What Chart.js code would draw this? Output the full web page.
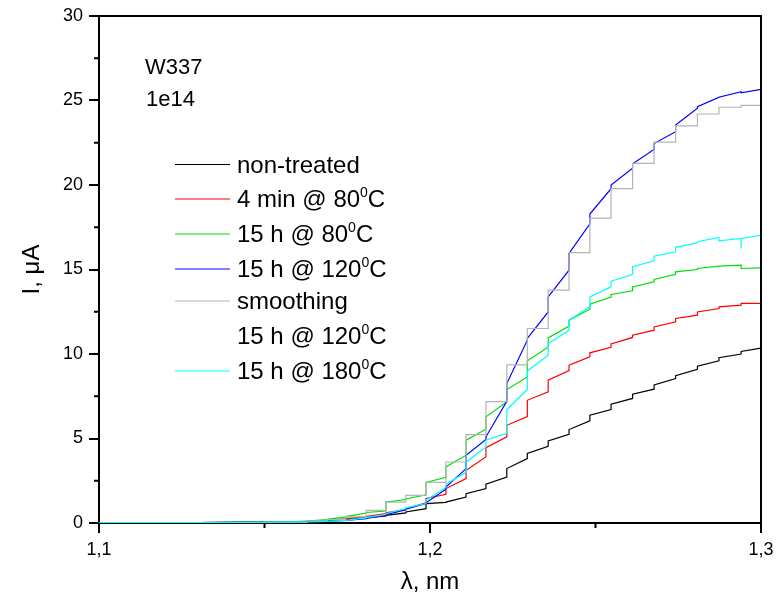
<!DOCTYPE html>
<html>
<head>
<meta charset="utf-8">
<script src="https://cdn.jsdelivr.net/npm/chart.js@4"></script>
<style>
  body { margin: 0; background: #fff; }
  canvas { display: block; }
</style>
</head>
<body>
<canvas id="chart" width="776" height="602"></canvas>
<script>
// wavelength steps (nm) where the measured curves jump
const stepNm = [1.1, 1.13, 1.15, 1.1628, 1.1689, 1.1746, 1.1807, 1.1867, 1.1927, 1.1988, 1.2048,
  1.2109, 1.2169, 1.2232, 1.2294, 1.2357, 1.2420, 1.2483, 1.2547, 1.2612, 1.2677, 1.2742,
  1.2808, 1.2873, 1.2940];
const lastNm = 1.3;

// value just before / just after each step, and the value at 1,3
const blackLo = [0.02, 0.03, 0.06, 0.1, 0.14, 0.2, 0.3, 0.42, 0.6, 0.85, 1.22, 1.54, 2.04, 2.72, 3.81, 4.54, 5.25, 6.04, 6.71, 7.37, 7.92, 8.55, 9.1, 9.6, 10.0];
const blackHi = [0.02, 0.03, 0.06, 0.1, 0.15, 0.21, 0.32, 0.45, 0.65, 1.15, 1.24, 1.74, 2.29, 3.22, 4.11, 4.86, 5.53, 6.38, 7.03, 7.62, 8.17, 8.72, 9.28, 9.78, 10.15];
const blackEnd = 10.35;

const redLo = [0.02, 0.03, 0.06, 0.1, 0.15, 0.25, 0.36, 0.56, 0.79, 1.2, 1.7, 2.63, 3.91, 5.1, 6.3, 7.76, 9.02, 9.83, 10.4, 10.98, 11.41, 11.9, 12.3, 12.69, 12.89];
const redHi = [0.02, 0.03, 0.06, 0.1, 0.16, 0.26, 0.38, 0.6, 0.85, 1.45, 2.04, 3.12, 4.46, 5.78, 7.26, 8.45, 9.34, 10.07, 10.6, 11.11, 11.6, 12.1, 12.49, 12.79, 12.99];
const redEnd = 12.99;

const greenLo = [0.02, 0.03, 0.06, 0.1, 0.2, 0.36, 0.59, 0.71, 1.39, 1.67, 2.7, 4.01, 5.55, 7.16, 8.64, 10.4, 11.65, 12.65, 13.37, 13.74, 14.27, 14.72, 15.0, 15.2, 15.26];
const greenHi = [0.02, 0.03, 0.06, 0.12, 0.22, 0.38, 0.62, 1.24, 1.42, 2.4, 3.32, 4.9, 6.28, 7.9, 9.6, 10.95, 12.0, 12.95, 13.52, 13.97, 14.41, 14.86, 15.06, 15.2, 15.06];
const greenEnd = 15.1;

const blueLo = [0.02, 0.03, 0.05, 0.06, 0.1, 0.15, 0.25, 0.45, 0.78, 1.15, 2.0, 3.22, 4.95, 7.2, 10.82, 12.49, 14.96, 17.7, 19.78, 21.0, 22.1, 23.15, 24.54, 25.19, 25.52];
const blueHi = [0.02, 0.03, 0.05, 0.06, 0.1, 0.16, 0.27, 0.5, 0.82, 1.2, 2.13, 4.0, 5.1, 8.25, 10.92, 13.38, 15.95, 18.28, 20.0, 21.25, 22.45, 23.55, 24.63, 25.2, 25.45];
const blueEnd = 25.66;

// smoothing: one flat level per step interval
const grayLevel = [0.02, 0.03, 0.05, 0.12, 0.2, 0.36, 0.75, 1.24, 1.64, 2.4, 3.61, 5.23, 7.18, 9.36, 11.51, 13.78, 16.0, 18.04, 19.78, 21.28, 22.54, 23.5, 24.2, 24.6, 24.71];
const grayEnd = 24.71;

const cyanLo = [0.02, 0.03, 0.05, 0.05, 0.1, 0.15, 0.3, 0.5, 0.85, 1.15, 2.1, 3.0, 4.5, 5.3, 7.9, 9.93, 11.4, 12.79, 13.97, 14.72, 15.51, 16.05, 16.58, 16.9, 16.84];
const cyanHi = [0.02, 0.03, 0.05, 0.06, 0.1, 0.16, 0.32, 0.55, 0.9, 1.35, 2.3, 3.6, 4.9, 6.7, 9.0, 10.6, 12.0, 13.38, 14.31, 15.16, 15.79, 16.31, 16.64, 16.7, 16.84];
const cyanDip = 16.25;   // glitch at the last step
const cyanEnd = 17.02;

const yMinor = [2.5, 7.5, 12.5, 17.5, 22.5, 27.5];
const xMinor = [1.15, 1.25];

// legend rows: label (^ marks superscript char), colour or null
const legendRows = [
  ['non-treated', '#000000'],
  ['4 min @ 80^0C', '#FF0000'],
  ['15 h @ 80^0C', '#00E000'],
  ['15 h @ 120^0C', '#0000FF'],
  ['smoothing', '#B4B4B4'],
  ['15 h @ 120^0C', null],
  ['15 h @ 180^0C', '#00FFFF'],
];
const legendBase = [172.5, 207, 242, 277, 309, 344, 379];

const FONT = '"Liberation Sans", Arial, sans-serif';

function stepLine(lo, hi, end) {
  const pts = [];
  stepNm.forEach((x, i) => {
    pts.push({ x, y: lo[i] });
    if (hi[i] !== lo[i]) pts.push({ x, y: hi[i] });
  });
  pts.push({ x: lastNm, y: end });
  return pts;
}

const cyanPts = stepLine(cyanLo, cyanHi, cyanEnd);
cyanPts.splice(cyanPts.length - 1, 0, { x: stepNm[stepNm.length - 1], y: cyanDip },
  { x: stepNm[stepNm.length - 1], y: cyanHi[cyanHi.length - 1] });

const grayPts = stepNm.map((x, i) => ({ x, y: grayLevel[i] }));
grayPts.push({ x: lastNm, y: grayEnd });

function ds(data, color, extra) {
  return Object.assign({
    data, borderColor: color, borderWidth: 1.2, pointRadius: 0, tension: 0, fill: false
  }, extra || {});
}

const decor = {
  id: 'decor',
  afterDraw(chart) {
    const { ctx, chartArea: a, scales: { x, y } } = chart;
    ctx.save();
    ctx.strokeStyle = '#000';
    ctx.lineWidth = 2;
    ctx.beginPath();
    ctx.moveTo(a.left, a.top);
    ctx.lineTo(a.right, a.top);
    ctx.lineTo(a.right, a.bottom);
    yMinor.forEach(v => {
      const py = y.getPixelForValue(v);
      ctx.moveTo(a.left - 5, py); ctx.lineTo(a.left, py);
    });
    xMinor.forEach(v => {
      const px = x.getPixelForValue(v);
      ctx.moveTo(px, a.bottom); ctx.lineTo(px, a.bottom + 5);
    });
    ctx.stroke();

    ctx.fillStyle = '#000';
    ctx.font = '22px ' + FONT;
    ctx.fillText('W337', 145, 74);
    ctx.fillText('1e14', 146, 106);

    // legend
    legendRows.forEach(([label, color], i) => {
      const base = legendBase[i];
      if (color) {
        ctx.strokeStyle = color;
        ctx.lineWidth = 1.2;
        ctx.beginPath();
        ctx.moveTo(175, base - 8);
        ctx.lineTo(230, base - 8);
        ctx.stroke();
      }
      let tx = 237;
      const parts = label.split('^');
      ctx.font = '24px ' + FONT;
      ctx.fillText(parts[0], tx, base);
      tx += ctx.measureText(parts[0]).width;
      if (parts.length > 1) {
        ctx.font = '14px ' + FONT;
        ctx.fillText(parts[1][0], tx, base - 10);
        tx += ctx.measureText(parts[1][0]).width;
        ctx.font = '24px ' + FONT;
        ctx.fillText(parts[1].slice(1), tx, base);
      }
    });
    ctx.restore();
  }
};

new Chart(document.getElementById('chart').getContext('2d'), {
  type: 'line',
  data: {
    datasets: [
      ds(stepLine(blackLo, blackHi, blackEnd), '#000000', { order: 6 }),
      ds(stepLine(redLo, redHi, redEnd), '#FF0000', { order: 5 }),
      ds(stepLine(greenLo, greenHi, greenEnd), '#00E000', { order: 4 }),
      ds(stepLine(blueLo, blueHi, blueEnd), '#0000FF', { order: 3 }),
      ds(grayPts, '#B4B4B4', { order: 2, stepped: true }),
      ds(cyanPts, '#00FFFF', { order: 1 }),
    ]
  },
  options: {
    responsive: false,
    animation: false,
    layout: { padding: { top: 16, right: 15, left: 0, bottom: 0 } },
    plugins: { legend: { display: false }, tooltip: { enabled: false } },
    scales: {
      x: {
        type: 'linear',
        min: 1.1, max: 1.3,
        afterFit: s => { s.height = 79; s.paddingLeft = 0; s.paddingRight = 0; },
        border: { display: true, color: '#000', width: 2 },
        grid: { drawOnChartArea: false, drawTicks: true, tickLength: 10, color: '#000', lineWidth: 2 },
        ticks: {
          stepSize: 0.1, autoSkip: false, maxRotation: 0, padding: 6, color: '#000',
          font: { family: FONT, size: 18 },
          callback: v => v.toFixed(1).replace('.', ',')
        },
        title: { display: true, text: 'λ, nm', color: '#000', font: { family: FONT, size: 24 }, padding: { top: 0, bottom: 5 } }
      },
      y: {
        min: 0, max: 30,
        afterFit: s => { s.width = 99; s.paddingTop = 0; s.paddingBottom = 0; },
        border: { display: true, color: '#000', width: 2 },
        grid: { drawOnChartArea: false, drawTicks: true, tickLength: 10, color: '#000', lineWidth: 2 },
        ticks: { stepSize: 5, padding: 6, color: '#000', font: { family: FONT, size: 18 } },
        title: { display: true, text: 'I, μA', color: '#000', font: { family: FONT, size: 24 }, padding: { top: 18, bottom: 0 } }
      }
    }
  },
  plugins: [decor]
});
</script>
</body>
</html>
